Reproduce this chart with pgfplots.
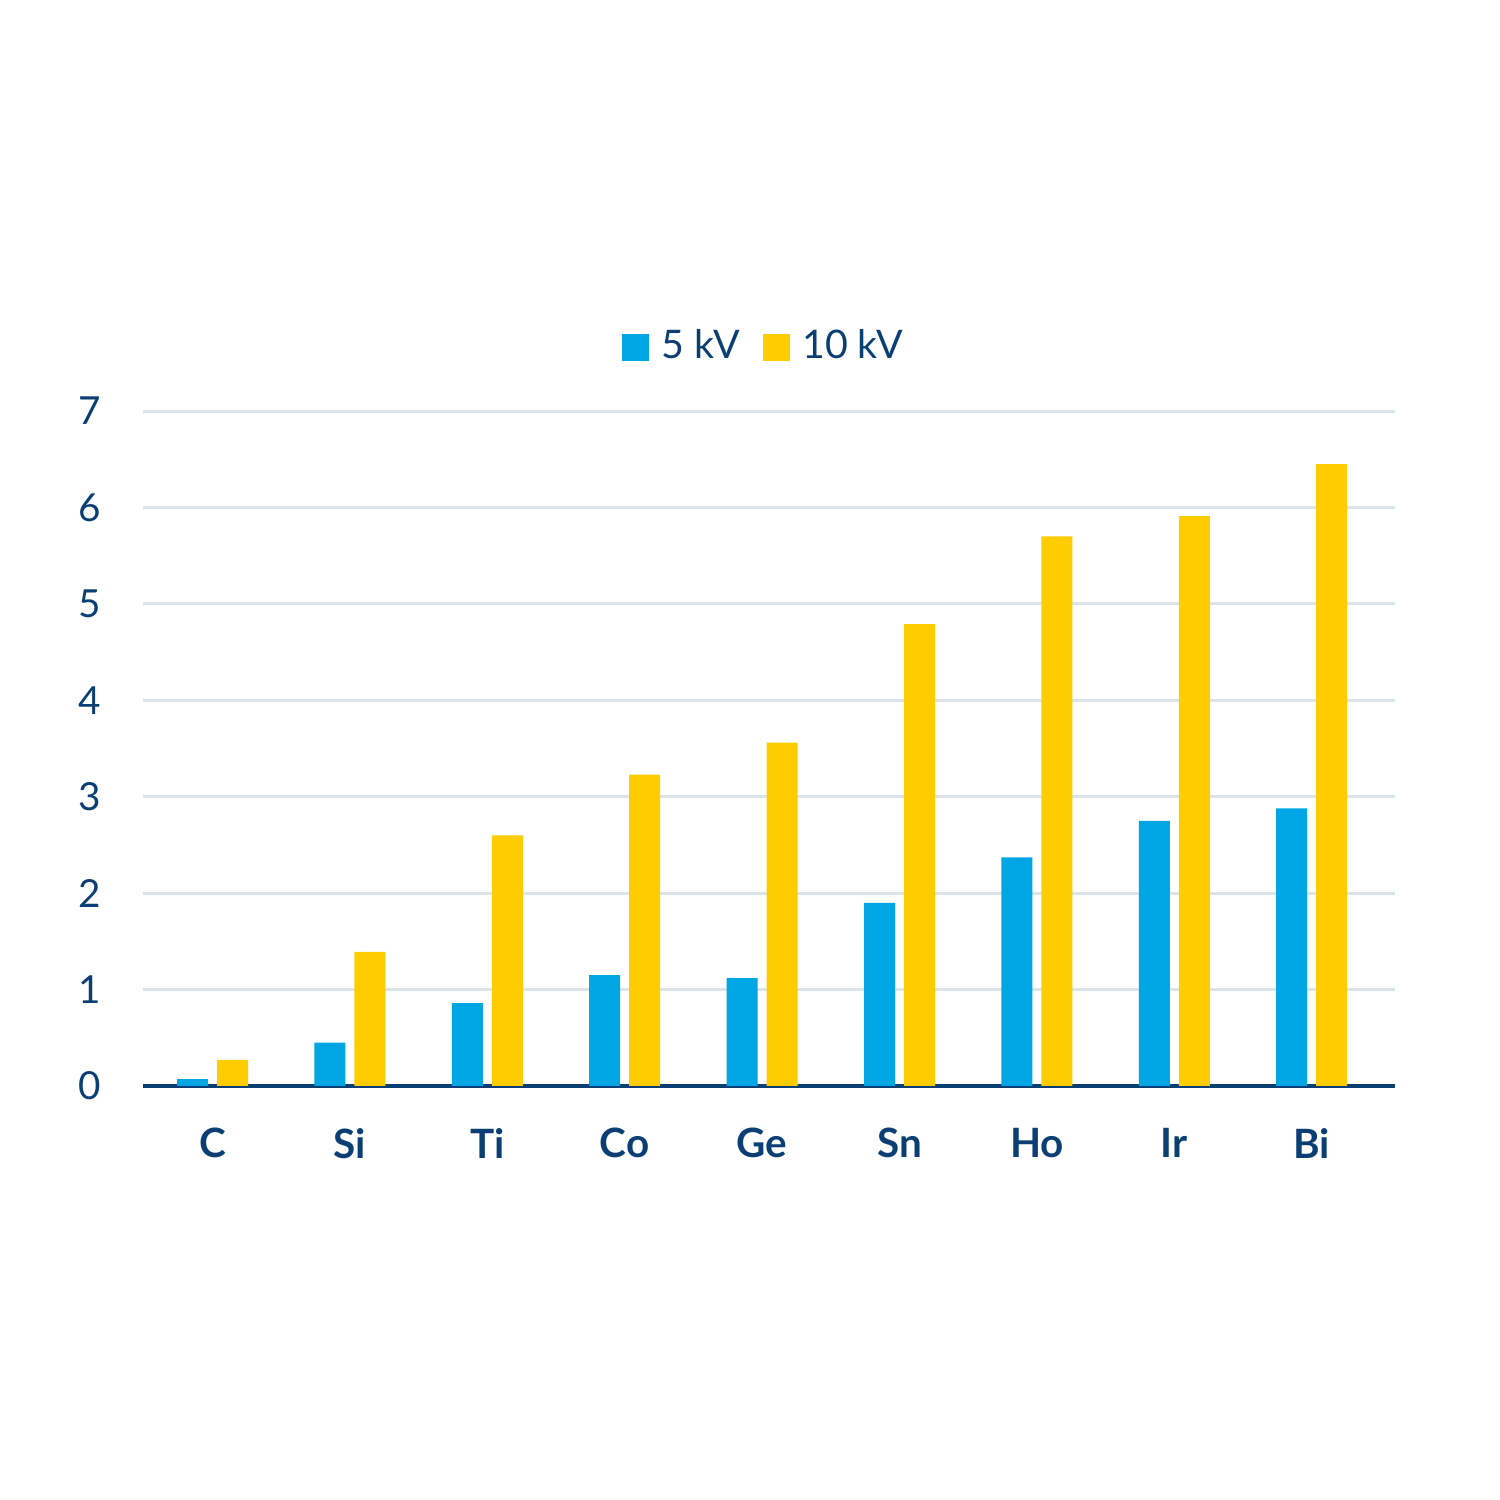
\documentclass[border=0pt]{standalone}
\usepackage{pgfplots}
\pgfplotsset{compat=1.18}
\usepackage{fontspec}
\setmainfont{Lato}
\definecolor{navy}{HTML}{0B3F73}
\definecolor{cblue}{HTML}{00A6E3}
\definecolor{cyell}{HTML}{FFCC00}
\definecolor{gridc}{HTML}{DCE3EA}
\begin{document}
\begin{tikzpicture}
\path[use as bounding box] (0,0) rectangle (15cm,15cm);
\begin{axis}[
  at={(1.43cm,4.14cm)}, anchor=south west,
  scale only axis, width=12.52cm, height=6.75cm,
  xmin=-0.506, xmax=8.606, ymin=0, ymax=7,
  ytick={0,1,...,7},
  xtick={0,...,8},
  xticklabels={C,Si,Ti,Co,Ge,Sn,Ho,Ir,Bi},
  axis x line*=bottom, axis y line*=left,
  x axis line style={navy, line width=1.1pt, -},
  y axis line style={draw=none},
  major tick length=0pt,
  ymajorgrids, grid style={gridc, line width=0.85pt},
  every axis plot/.append style={draw=none},
  ybar, bar width=0.31cm,
  /pgf/number format/assume math mode=true,
  tick label style={navy, font=\fontsize{11}{13}\selectfont},
  yticklabel style={xshift=-0.3cm},
  xticklabel style={yshift=-0.3cm, font=\fontsize{11.5}{13}\selectfont\bfseries},
  legend style={at={(0.5,1)}, anchor=south, yshift=0.32cm, draw=none, fill=none,
    font=\fontsize{11.2}{13}\selectfont, text=navy, legend columns=2,
    /tikz/every even column/.append style={column sep=0.1cm}},
  legend image code/.code={\fill[#1] (0cm,-0.135cm) rectangle (0.27cm,0.135cm);},
  legend style={/tikz/every node/.append style={inner xsep=3.6pt}},
  clip=false,
]
\addplot[fill=cblue, bar shift=-0.2cm] coordinates {
(0,0.07) (1,0.45) (2,0.86) (3,1.15) (4,1.12) (5,1.90) (6,2.37) (7,2.75) (8,2.88)};
\addplot[fill=cyell, bar shift=0.2cm] coordinates {
(0,0.27) (1,1.39) (2,2.60) (3,3.23) (4,3.56) (5,4.79) (6,5.70) (7,5.91) (8,6.45)};
\legend{5 kV,10 kV}
\end{axis}
\end{tikzpicture}
\end{document}
